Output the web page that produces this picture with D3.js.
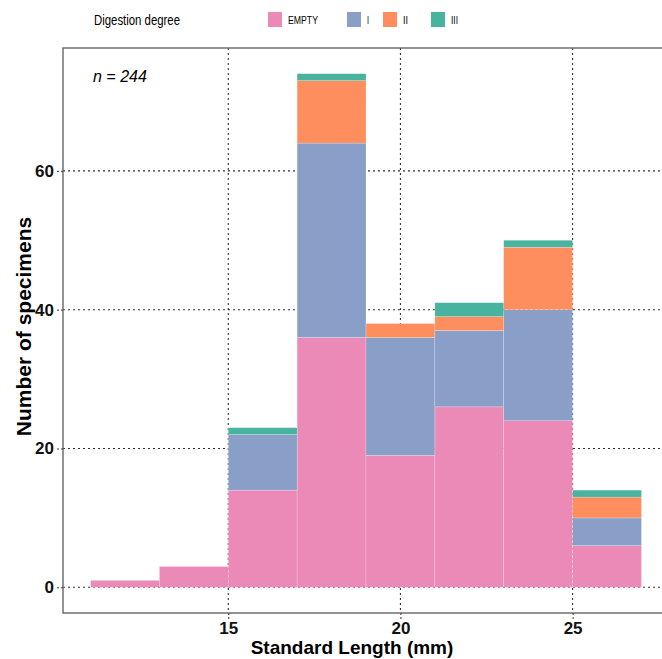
<!DOCTYPE html>
<html>
<head>
<meta charset="utf-8">
<script src="https://cdn.jsdelivr.net/npm/d3@7"></script>
<style>
  html, body { margin: 0; padding: 0; background: #fff; }
  svg { display: block; font-family: "Liberation Sans", Arial, sans-serif; }
</style>
</head>
<body>
<svg id="chart" width="662" height="659"></svg>
<script>
// Standard length bins (mm), width 2
const binStarts = [11, 13, 15, 17, 19, 21, 23, 25];
const binWidth = 2;
// Counts per digestion degree in each bin
const emptyCounts = [1, 3, 14, 36, 19, 26, 24, 6];
const degreeI     = [0, 0, 8, 28, 17, 11, 16, 4];
const degreeII    = [0, 0, 0, 9, 2, 2, 9, 3];
const degreeIII   = [0, 0, 1, 1, 0, 2, 1, 1];
const degrees = ["EMPTY", "I", "II", "III"];
const degreeColors = ["#EB89B7", "#8A9FC8", "#FF8E5E", "#48B39F"];
const xTicks = [15, 20, 25];
const yTicks = [0, 20, 40, 60];
const sampleLabel = "n = 244";

const svg = d3.select("#chart");
const plot = { left: 63, right: 669, top: 48, bottom: 613 };

const rows = binStarts.map((b, i) => ({
  start: b, EMPTY: emptyCounts[i], I: degreeI[i], II: degreeII[i], III: degreeIII[i]
}));
const stacked = d3.stack().keys(degrees)(rows);
const maxTotal = d3.max(rows, r => r.EMPTY + r.I + r.II + r.III);

const xMin = d3.min(binStarts), xMax = d3.max(binStarts) + binWidth;
const xPad = (xMax - xMin) * 0.05, yPad = maxTotal * 0.05;
const x = d3.scaleLinear().domain([xMin - xPad, xMax + xPad]).range([plot.left, plot.right]);
const y = d3.scaleLinear().domain([-yPad, maxTotal + yPad]).range([plot.bottom, plot.top]);
const color = d3.scaleOrdinal().domain(degrees).range(degreeColors);

// Grid lines at major ticks
const grid = svg.append("g").attr("stroke", "#333").attr("stroke-width", 1.1).attr("stroke-dasharray", "2,3");
grid.selectAll(".gx").data(xTicks).join("line")
  .attr("x1", d => x(d)).attr("x2", d => x(d)).attr("y1", plot.top).attr("y2", plot.bottom);
grid.selectAll(".gy").data(yTicks).join("line")
  .attr("x1", plot.left).attr("x2", plot.right).attr("y1", d => y(d)).attr("y2", d => y(d));

// Stacked histogram bars
svg.append("g").selectAll("g").data(stacked).join("g")
  .attr("fill", d => color(d.key))
  .selectAll("rect").data(d => d.filter(s => s[1] > s[0])).join("rect")
  .attr("x", d => x(d.data.start))
  .attr("width", d => x(d.data.start + binWidth) - x(d.data.start))
  .attr("y", d => y(d[1]))
  .attr("height", d => y(d[0]) - y(d[1]))
  .attr("stroke", "#fff").attr("stroke-opacity", 0.35).attr("stroke-width", 0.6);

// Panel border
svg.append("rect")
  .attr("x", plot.left).attr("y", plot.top)
  .attr("width", plot.right - plot.left).attr("height", plot.bottom - plot.top)
  .attr("fill", "none").attr("stroke", "#666").attr("stroke-width", 1.4);

// Axes
const xAxis = svg.append("g").attr("transform", `translate(0,${plot.bottom})`)
  .call(d3.axisBottom(x).tickValues(xTicks).tickSize(6).tickPadding(3));
const yAxis = svg.append("g").attr("transform", `translate(${plot.left},0)`)
  .call(d3.axisLeft(y).tickValues(yTicks).tickSize(6).tickPadding(3));
[xAxis, yAxis].forEach(a => {
  a.select(".domain").remove();
  a.selectAll(".tick line").attr("stroke", "#333").attr("stroke-dasharray", "2,2");
  a.selectAll("text").attr("font-size", 17).attr("font-weight", "bold").attr("fill", "#111")
    .attr("font-family", "Liberation Sans, Arial, sans-serif");
});

// Axis titles
svg.append("text")
  .attr("x", 352).attr("y", 654)
  .attr("text-anchor", "middle").attr("font-size", 19).attr("font-weight", "bold")
  .text("Standard Length (mm)");
svg.append("text")
  .attr("transform", `translate(31,${(plot.top + plot.bottom) / 2 - 4}) rotate(-90)`)
  .attr("text-anchor", "middle").attr("font-size", 21).attr("font-weight", "bold")
  .text("Number of specimens");

// Sample size
svg.append("text")
  .attr("x", 93).attr("y", 82).attr("font-size", 16).attr("font-style", "italic")
  .text(sampleLabel);

// Legend (condensed lettering)
svg.append("text").attr("x", 94).attr("y", 25).attr("font-size", 14)
  .attr("textLength", 86).attr("lengthAdjust", "spacingAndGlyphs")
  .text("Digestion degree");
const legendX = [268, 347, 383, 431];
const legendTextWidth = [30, 2, 5, 7];
const lg = svg.append("g").selectAll("g").data(degrees).join("g")
  .attr("transform", (d, i) => `translate(${legendX[i]},12)`);
lg.append("rect").attr("width", 14).attr("height", 15).attr("fill", d => color(d));
lg.append("text").attr("x", 20).attr("y", 12).attr("font-size", 11)
  .attr("textLength", (d, i) => legendTextWidth[i]).attr("lengthAdjust", "spacingAndGlyphs")
  .text(d => d);
</script>
</body>
</html>
